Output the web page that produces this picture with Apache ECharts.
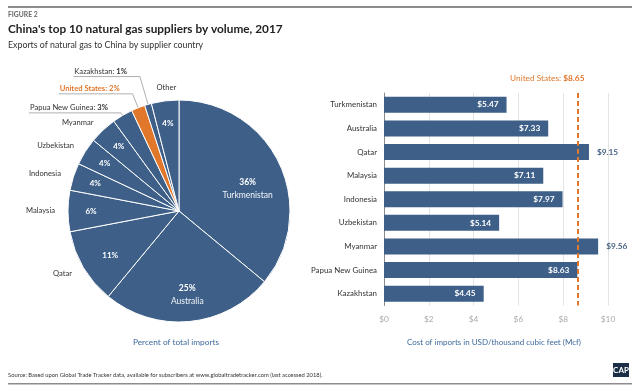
<!DOCTYPE html>
<html><head><meta charset="utf-8">
<script src="https://cdn.jsdelivr.net/npm/echarts@6/dist/echarts.min.js"></script>
<style>html,body{margin:0;padding:0;background:#fff}#c{width:640px;height:391px}</style>
</head><body><div id="c"></div>
<script>
// ---- data ----
const pieNames = ['Turkmenistan','Australia','Qatar','Malaysia','Indonesia','Uzbekistan','Myanmar','Papua New Guinea','United States','Kazakhstan','Other'];
const pieValues = [36, 25, 11, 6, 4, 4, 4, 3, 2, 1, 4];
const barCategories = ['Turkmenistan','Australia','Qatar','Malaysia','Indonesia','Uzbekistan','Myanmar','Papua New Guinea','Kazakhstan'];
const barValues = [5.47, 7.33, 9.15, 7.11, 7.97, 5.14, 9.56, 8.63, 4.45];
const usPrice = 8.65;
const xTickStep = 2;
const xMax = 10;

// ---- styles ----
const BLUE = '#3d5f88';
const ORANGE = '#e0772b';
const FONT = 'Lato';
const PIE_C = [179, 211];
const PIE_R = 111;
const PF = 7.6;   // pie label font size

const namedInside = ['Turkmenistan', 'Australia'];
const leaderNames = ['Papua New Guinea', 'United States', 'Kazakhstan'];
const noOuter = ['Turkmenistan', 'Australia'];
const leaderLen = {'Papua New Guinea': 3, 'United States': 15, 'Kazakhstan': 29, 'Other': 13};
const innerOffset = {'Turkmenistan': [-11, 15], 'Australia': [0, -4], 'Qatar': [7, 0]};

const chart = echarts.init(document.getElementById('c'), null, {renderer: 'canvas'});

const outerData = pieNames.map((n, i) => {
  const item = {name: n, value: pieValues[i], itemStyle: {color: n === 'United States' ? ORANGE : BLUE}};
  if (noOuter.includes(n)) item.label = {show: false};
  else if (leaderNames.includes(n)) {
    item.label = {formatter: n === 'United States' ? '{u|{b}: }{uv|{c}%}' : '{n|{b}: }{v|{c}%}'};
    item.labelLine = {show: true, length: leaderLen[n], length2: 0};
  } else if (leaderLen[n]) {
    item.labelLine = {length: leaderLen[n]};
  }
  return item;
});

const innerData = pieNames.map((n, i) => {
  const item = {name: n, value: pieValues[i]};
  if (leaderNames.includes(n)) item.label = {show: false};
  else if (namedInside.includes(n)) item.label = {formatter: '{p|{c}%}\n{n|{b}}'};
  return item;
});

const option = {
  backgroundColor: '#fff',
  animation: false,
  textStyle: {fontFamily: FONT},
  grid: {left: 384, right: 32, top: 93, bottom: 85.5, containLabel: false},
  xAxis: {
    type: 'value', min: 0, max: xMax, interval: xTickStep,
    axisLine: {show: false}, axisTick: {show: false},
    splitLine: {lineStyle: {color: '#e3e3e3', width: 1}},
    axisLabel: {formatter: v => '$' + v, color: '#aaa', fontSize: 8.3, margin: 10, fontFamily: FONT}
  },
  yAxis: {
    type: 'category', data: barCategories, inverse: true,
    axisLine: {show: true, lineStyle: {color: '#8a8a8a', width: 1}}, axisTick: {show: false},
    axisLabel: {color: '#333', fontSize: 7.9, margin: 7, fontFamily: FONT}
  },
  series: [
    {
      type: 'pie', center: PIE_C, radius: PIE_R, startAngle: 90, clockwise: true,
      avoidLabelOverlap: false, silent: true, emphasis: {disabled: true},
      itemStyle: {borderColor: '#fff', borderWidth: 1},
      label: {
        show: true, position: 'outside', color: '#333', fontSize: PF, fontFamily: FONT,
        distanceToLabelLine: 2, formatter: '{b}',
        rich: {
          n: {color: '#333', fontSize: PF, fontFamily: FONT},
          v: {color: '#333', fontSize: PF, fontFamily: FONT, fontWeight: 'bold'},
          u: {color: ORANGE, fontSize: PF, fontFamily: FONT, fontWeight: 'bold'},
          uv: {color: ORANGE, fontSize: PF, fontFamily: FONT, fontWeight: 'bold'}
        }
      },
      labelLine: {show: false, length: 11, length2: 0, lineStyle: {color: '#b0b0b0', width: 1}},
      labelLayout: function (p) {
        const n = pieNames[p.dataIndex];
        if (leaderNames.includes(n) && p.labelLinePoints) {
          const pts = p.labelLinePoints;
          const elbow = pts[1];
          const w = p.labelRect.width;
          const right = elbow[0] - 13;
          return {
            x: right, y: elbow[1] - 1.5, align: 'right', verticalAlign: 'bottom',
            labelLinePoints: [pts[0], elbow, [right - w - 1, elbow[1]]]
          };
        }
        if (n === 'Other') {
          return {x: p.labelRect.x + p.labelRect.width - 5, align: 'left'};
        }
        return {};
      },
      data: outerData
    },
    {
      type: 'pie', center: PIE_C, radius: [59, PIE_R], startAngle: 90, clockwise: true,
      avoidLabelOverlap: false, silent: true, emphasis: {disabled: true},
      itemStyle: {color: 'rgba(0,0,0,0)', borderWidth: 0},
      label: {
        show: true, position: 'inside', color: '#fff', fontSize: 8, fontWeight: 'bold', fontFamily: FONT,
        formatter: '{c}%', lineHeight: 12,
        rich: {
          p: {color: '#fff', fontSize: 8.5, fontWeight: 'bold', fontFamily: FONT, lineHeight: 13},
          n: {color: '#f2f5f9', fontSize: 8.5, fontWeight: 'normal', fontFamily: FONT, lineHeight: 13}
        }
      },
      labelLine: {show: false},
      labelLayout: function (p) {
        const off = innerOffset[pieNames[p.dataIndex]];
        if (!off) return {};
        const r = p.labelRect;
        return {x: r.x + r.width / 2 + off[0], y: r.y + r.height / 2 + off[1], align: 'center', verticalAlign: 'middle'};
      },
      data: innerData
    },
    {
      type: 'bar', silent: true,
      barWidth: 16,
      itemStyle: {color: BLUE},
      label: {
        show: true, position: 'insideRight', distance: 8, color: '#fff', fontWeight: 'bold',
        fontSize: 8.3, fontFamily: FONT, formatter: p => '$' + p.value.toFixed(2)
      },
      data: barValues.map(v => v > usPrice
        ? {value: v, label: {position: 'right', color: '#4a6584', distance: 8}}
        : {value: v}),
      markLine: {
        silent: true, symbol: 'none', animation: false,
        lineStyle: {color: ORANGE, type: [5, 3], width: 2},
        label: {
          show: true, position: 'start', distance: 11,
          formatter: '{a|United States: }{b|$' + usPrice.toFixed(2) + '}',
          padding: [0, 61, 0, 0],
          rich: {
            a: {color: ORANGE, fontSize: 8.3, fontFamily: FONT},
            b: {color: ORANGE, fontSize: 8.3, fontFamily: FONT, fontWeight: 'bold'}
          }
        },
        data: [{xAxis: usPrice}]
      },
      z: 3
    }
  ],
  graphic: [
    {type: 'rect', shape: {x: 8, y: 6, width: 624, height: 2}, style: {fill: '#8c8c8c'}, silent: true},
    {type: 'text', x: 8, y: 15, style: {text: 'FIGURE 2', font: 'bold 6.8px ' + FONT, fill: '#666', align: 'left', verticalAlign: 'middle', textAlign: 'left', textVerticalAlign: 'middle'}},
    {type: 'text', x: 8, y: 29, style: {text: "China's top 10 natural gas suppliers by volume, 2017", font: 'bold 11.8px ' + FONT, fill: '#222', align: 'left', verticalAlign: 'middle', textAlign: 'left', textVerticalAlign: 'middle'}},
    {type: 'text', x: 8, y: 45, style: {text: 'Exports of natural gas to China by supplier country', font: '8.8px ' + FONT, fill: '#333', align: 'left', verticalAlign: 'middle', textAlign: 'left', textVerticalAlign: 'middle'}},
    {type: 'text', x: 176, y: 342, style: {text: 'Percent of total imports', font: '8.3px ' + FONT, fill: '#3d6a9c', align: 'center', verticalAlign: 'middle', textAlign: 'center', textVerticalAlign: 'middle'}},
    {type: 'text', x: 494, y: 342, style: {text: 'Cost of imports in USD/thousand cubic feet (Mcf)', font: '8px ' + FONT, fill: '#3d6a9c', align: 'center', verticalAlign: 'middle', textAlign: 'center', textVerticalAlign: 'middle'}},
    {type: 'text', x: 8, y: 375, style: {text: 'Source: Based upon Global Trade Tracker data, available for subscribers at www.globaltradetracker.com (last accessed 2018).', font: '5.8px ' + FONT, fill: '#333', align: 'left', verticalAlign: 'middle', textAlign: 'left', textVerticalAlign: 'middle'}},
    {type: 'rect', shape: {x: 8, y: 383, width: 624, height: 1.5}, style: {fill: '#8c8c8c'}, silent: true},
    {type: 'rect', shape: {x: 613, y: 363, width: 16, height: 14}, style: {fill: '#1c2f46'}, silent: true},
    {type: 'text', x: 621, y: 370.5, style: {text: 'CAP', font: 'bold 8px ' + FONT, fill: '#fff', align: 'center', verticalAlign: 'middle', textAlign: 'center', textVerticalAlign: 'middle'}}
  ]
};
chart.setOption(option);
</script>
</body></html>
